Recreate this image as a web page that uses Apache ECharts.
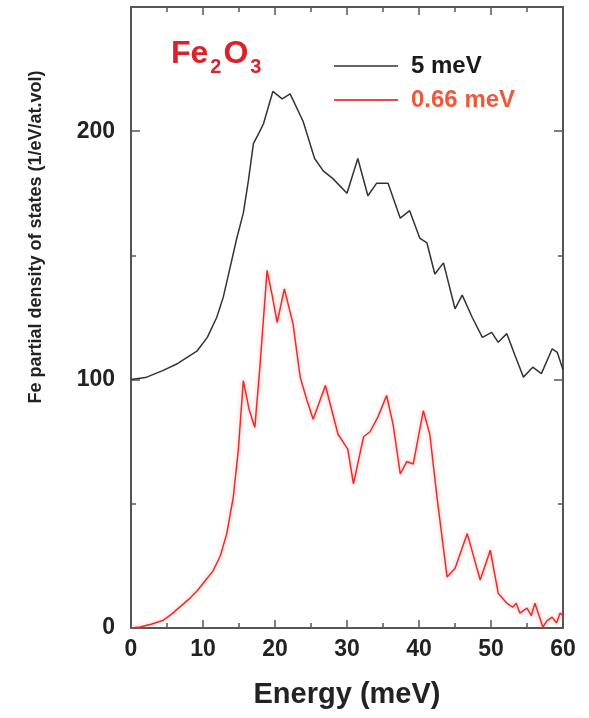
<!DOCTYPE html>
<html>
<head>
<meta charset="utf-8">
<script src="https://cdn.jsdelivr.net/npm/echarts@6/dist/echarts.min.js"></script>
<style>
  html, body { margin: 0; padding: 0; background: #fff; }
  #chart { width: 589px; height: 718px; }
</style>
</head>
<body>
<div id="chart"></div>
<script>
// values
var energy5 = [0, 2, 4.4, 6.5, 9.2, 10.6, 11.9, 12.8, 13.75, 14.7, 15.6, 16.3, 17, 17.9, 18.4, 19.7, 21, 22.1, 23.9, 25.5, 26.7, 28, 30, 31.5, 32.9, 34.1, 35.7, 37.4, 38.7, 40.1, 41.1, 42.2, 43.4, 45, 46, 47.4, 48.8, 50.1, 51, 52.2, 53.3, 54.5, 55.8, 57, 58.5, 59.2, 60];
var dos5 = [100, 100.8, 103.6, 106.5, 111.6, 117, 125, 133, 145, 157, 167, 180, 195, 200, 203, 216, 213, 215, 204, 189, 184, 181, 175, 189, 174, 179, 179, 165, 168, 157, 155, 142.5, 147, 128.5, 134, 125, 117, 119, 115, 118.5, 110, 101, 105, 102.4, 112.4, 111, 104];

var energy066 = [0, 1.25, 2.8, 4.4, 5.6, 6.8, 8, 9.2, 10.3, 11.4, 12.4, 13.3, 14.2, 14.9, 15.6, 16.4, 17.2, 17.9, 18.9, 19.6, 20.3, 21.3, 22.5, 23.5, 24.4, 25.3, 27, 28.75, 30.1, 30.9, 32.3, 33.2, 34.3, 35.5, 36.4, 37.4, 38.3, 39.2, 40.6, 41.5, 42.5, 43.9, 45, 46.7, 48.5, 49.9, 51, 51.6, 52.2, 53, 53.5, 54, 55, 55.6, 56.1, 57.2, 57.8, 58.5, 59.1, 59.6, 60];
var dos066 = [0, 0.4, 1.5, 3, 5.5, 8.5, 11.5, 15, 19, 23, 29, 38, 52.6, 71.5, 99.6, 88, 80.7, 105, 144, 134, 123, 136.5, 122.5, 101, 92, 84, 97.6, 78, 72, 58, 77, 79, 85, 93.6, 82, 62, 67, 66, 87.5, 78, 52.6, 20.5, 24, 38, 19.3, 31.3, 14, 12, 10, 8.4, 10, 6, 8, 5, 10, 0.4, 3, 4.4, 2, 6, 5];

var xTicks = [0, 10, 20, 30, 40, 50, 60];
var yTicks = [0, 100, 200];

var FONT = '"Liberation Sans", Arial, sans-serif';
var frameColor = '#555';

function pairs(xs, ys) {
    var res = [];
    for (var i = 0; i < xs.length; i++) {
        res.push([xs[i], ys[i]]);
    }
    return res;
}

var chart = echarts.init(document.getElementById('chart'));

// y axes: major ticks with labels, plus a second set for the short 50-step ticks
function yAxisDef(pos, interval, tickLen, showLabel, showLine) {
    return {
        type: 'value',
        position: pos,
        min: 0,
        max: 250,
        interval: interval,
        axisLine: { show: showLine, lineStyle: { color: frameColor, width: 2 } },
        axisTick: { show: true, inside: true, length: tickLen, lineStyle: { color: frameColor, width: 1.5 } },
        axisLabel: {
            show: showLabel,
            margin: 16,
            color: '#222',
            fontFamily: FONT,
            fontWeight: 'bold',
            fontSize: 23,
            formatter: function (v) { return yTicks.indexOf(v) >= 0 ? String(v) : ''; }
        },
        splitLine: { show: false }
    };
}

function xAxisDef(pos, showLabel) {
    return {
        type: 'value',
        position: pos,
        min: 0,
        max: 60,
        interval: 10,
        axisLine: { show: true, onZero: false, lineStyle: { color: frameColor, width: 2 } },
        axisTick: { show: true, inside: true, length: 8, lineStyle: { color: frameColor, width: 1.5 } },
        minorTick: { show: true, splitNumber: 2, length: 5, lineStyle: { color: frameColor, width: 1.5 } },
        axisLabel: {
            show: showLabel,
            margin: 10,
            color: '#222',
            fontFamily: FONT,
            fontWeight: 'bold',
            fontSize: 23,
            formatter: function (v) { return xTicks.indexOf(v) >= 0 ? String(v) : ''; }
        },
        splitLine: { show: false }
    };
}

var xBottom = xAxisDef('bottom', true);
xBottom.name = 'Energy (meV)';
xBottom.nameLocation = 'middle';
xBottom.nameGap = 52;
xBottom.nameTextStyle = { color: '#222', fontFamily: FONT, fontWeight: 'bold', fontSize: 29 };

var option = {
    animation: false,
    backgroundColor: '#fff',
    grid: { left: 131, right: 26, top: 7, bottom: 90 },
    title: {
        left: 166,
        top: 26,
        text: '{a|Fe}{s|2}{a|O}{s|3}',
        textStyle: {
            rich: {
                a: { fontFamily: FONT, fontWeight: 'bold', fontSize: 32, color: '#d9222a' },
                s: { fontFamily: FONT, fontWeight: 'bold', fontSize: 20, color: '#d9222a', padding: [26, 2, 0, 2] }
            }
        }
    },
    legend: {
        orient: 'vertical',
        left: 329,
        top: 49,
        itemWidth: 64,
        itemHeight: 2,
        itemGap: 10,
        icon: 'rect',
        textStyle: { fontFamily: FONT, fontWeight: 'bold', fontSize: 24, padding: [0, 0, 0, 8] },
        data: [
            { name: '5 meV', itemStyle: { color: '#666' }, textStyle: { color: '#1a1a1a' } },
            { name: '0.66 meV', itemStyle: { color: '#e5484e' }, textStyle: { color: '#ec5a3c' } }
        ]
    },
    xAxis: [xBottom, xAxisDef('top', false)],
    yAxis: [
        yAxisDef('left', 100, 9, true, true),
        yAxisDef('left', 50, 5, false, false),
        yAxisDef('right', 100, 9, false, true),
        yAxisDef('right', 50, 5, false, false)
    ],
    graphic: [{
        type: 'text',
        x: 36,
        y: 237,
        rotation: Math.PI / 2,
        style: {
            text: 'Fe partial density of states (1/eV/at.vol)',
            fill: '#222',
            font: 'bold 18px ' + FONT,
            align: 'center',
            verticalAlign: 'middle'
        }
    }],
    series: [
        {
            name: '5 meV',
            type: 'line',
            xAxisIndex: 0,
            yAxisIndex: 0,
            showSymbol: false,
            data: pairs(energy5, dos5),
            lineStyle: { color: '#333', width: 1.5 },
            itemStyle: { color: '#333' }
        },
        {
            name: '0.66 meV',
            type: 'line',
            xAxisIndex: 0,
            yAxisIndex: 0,
            showSymbol: false,
            data: pairs(energy066, dos066),
            lineStyle: { color: '#e3302c', width: 1.5, shadowColor: 'rgba(240,110,110,0.6)', shadowBlur: 4 },
            itemStyle: { color: '#e3302c' }
        }
    ]
};

chart.setOption(option);
</script>
</body>
</html>
